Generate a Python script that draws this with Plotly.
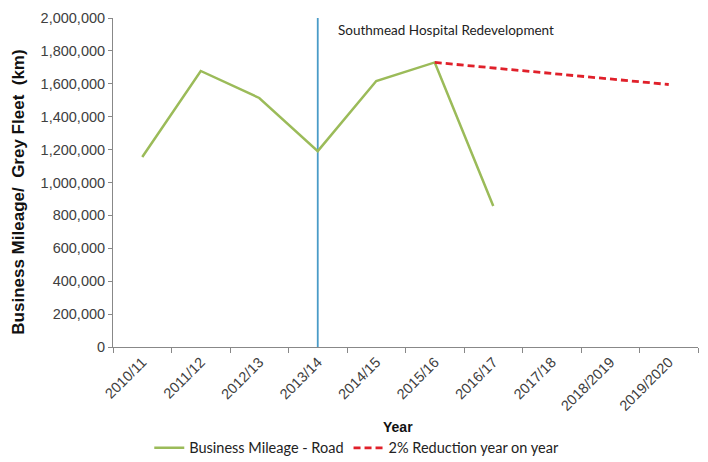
import plotly.graph_objects as go

years = ["2010/11", "2011/12", "2012/13", "2013/14", "2014/15", "2015/16",
         "2016/17", "2017/18", "2018/2019", "2019/2020"]

# Recorded business mileage (grey fleet), km
mileage_years = ["2010/11", "2011/12", "2012/13", "2013/14", "2014/15", "2015/16", "2016/17"]
mileage_km = [1155000, 1678000, 1514000, 1191000, 1617000, 1730000, 857000]

# Target trajectory: 2% reduction year on year from 2015/16
target_years = ["2015/16", "2016/17", "2017/18", "2018/2019", "2019/2020"]
target_km = [1730000, 1695400, 1661500, 1628300, 1595700]

# Marker for the redevelopment year
event_year = "2013/14"
event_span = [0, 2000000]
event_label = "Southmead Hospital Redevelopment"

y_title = "<b>Business Mileage/\u00a0 Grey Fleet\u00a0 (km)</b>"
x_title = "<b>Year</b>"

fig = go.Figure()

fig.add_trace(go.Scatter(
    x=[event_year, event_year], y=event_span, mode="lines",
    line=dict(color="#4A9BC7", width=1.8), showlegend=False, hoverinfo="skip"))

fig.add_trace(go.Scatter(
    x=mileage_years, y=mileage_km, mode="lines", name="Business Mileage - Road",
    line=dict(color="#9BBB59", width=2.5)))

fig.add_trace(go.Scatter(
    x=target_years, y=target_km, mode="lines", name="2% Reduction year on year",
    line=dict(color="#E0202A", width=2.8, dash="7px,4px")))

fig.add_annotation(
    x=event_year, y=1.0, xref="x", yref="paper", yshift=-12, xshift=18,
    text=event_label, showarrow=False, xanchor="left", yanchor="middle",
    font=dict(family="Lato", size=13.5, color="#222222"))

# Axis titles placed in the margins
fig.add_annotation(
    x=-0.163, y=0.471, xref="paper", yref="paper", xanchor="center", yanchor="middle",
    text=y_title, textangle=-90, showarrow=False,
    font=dict(size=17, color="#111111"))
fig.add_annotation(
    x=0.487, y=-0.243, xref="paper", yref="paper", xanchor="center", yanchor="middle",
    text=x_title, showarrow=False,
    font=dict(size=14, color="#111111"))

fig.update_layout(
    width=708, height=462,
    margin=dict(l=113, r=10, t=18, b=115, autoexpand=False),
    paper_bgcolor="white", plot_bgcolor="white",
    font=dict(family="Liberation Sans, Arial", size=14.5, color="#404040"),
    showlegend=True,
    legend=dict(orientation="h", x=0.062, xanchor="left", y=-0.258, yanchor="top",
                font=dict(family="Lato", size=14.5, color="#222222"),
                itemwidth=30, tracegroupgap=0),
    xaxis=dict(
        type="category", categoryorder="array", categoryarray=years,
        range=[-0.5, len(years) - 0.5], automargin=False,
        tickangle=-45, tickson="boundaries", ticks="outside", ticklen=5,
        tickcolor="#888888", showline=True, linecolor="#888888", linewidth=1,
        showgrid=False, zeroline=False),
    yaxis=dict(
        range=[0, 2000000], dtick=200000, tickformat=",", automargin=False,
        ticks="outside", ticklen=4, tickcolor="#888888",
        showline=True, linecolor="#888888", linewidth=1,
        showgrid=False, zeroline=False),
)

fig.write_html("out.html")
